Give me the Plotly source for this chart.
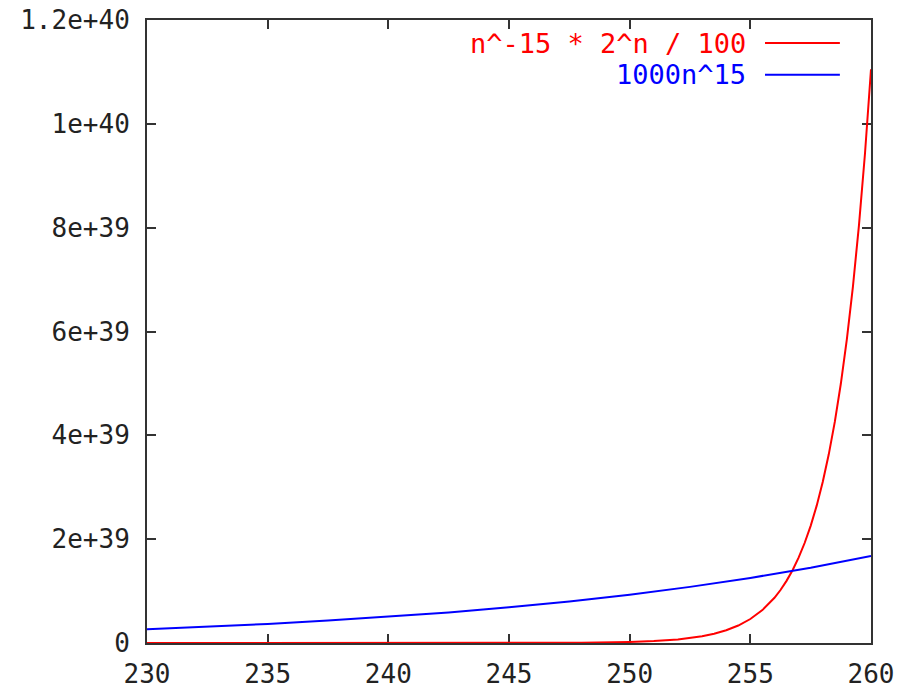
import plotly.graph_objects as go

# red series: n^-15 * 2^n / 100
red_n = [230, 235, 240, 245, 248, 250, 251, 252, 253, 253.5, 254, 254.5, 255, 255.5,
         256, 256.25, 256.5, 256.75, 257, 257.25, 257.5, 257.75, 258, 258.25, 258.5,
         258.75, 259, 259.25, 259.5, 259.75, 260]
red_y = [6.5e31, 3.7e33, 3.5e34, 8.2e35, 5.5e36, 1.94e37, 3.66e37, 6.89e37, 1.30e38, 1.784e38,
         2.449e38, 3.364e38, 4.62e38, 6.34e38,
         8.71e38, 1.021e39, 1.197e39, 1.402e39, 1.643e39, 1.926e39, 2.257e39, 2.646e39,
         3.100e39, 3.634e39, 4.258e39, 4.993e39, 5.852e39, 6.860e39, 8.04e39, 9.424e39,
         1.105e40]

# blue series: 1000n^15
blue_n = [230, 232.5, 235, 237.5, 240, 242.5, 245, 247.5, 250, 252.5, 255, 257.5, 260]
blue_y = [2.667e38, 3.14e38, 3.682e38, 4.31e38, 5.050e38, 5.89e38, 6.877e38, 8.00e38,
          9.313e38, 1.081e39, 1.253e39, 1.450e39, 1.677e39]

x_ticks = [230, 235, 240, 245, 250, 255, 260]
y_ticks = [0, 2e39, 4e39, 6e39, 8e39, 1e40, 1.2e40]
y_tick_text = ["0", "2e+39", "4e+39", "6e+39", "8e+39", "1e+40", "1.2e+40"]
legend_names = ["n^-15 * 2^n / 100", "1000n^15"]
colors = ["#ff0000", "#0000ff"]

FONT = "DejaVu Sans Mono"

fig = go.Figure()
fig.add_trace(go.Scatter(x=red_n, y=red_y, mode="lines", name=legend_names[0],
                         line=dict(color=colors[0], width=2)))
fig.add_trace(go.Scatter(x=blue_n, y=blue_y, mode="lines", name=legend_names[1],
                         line=dict(color=colors[1], width=2)))

axis_common = dict(showgrid=False, zeroline=False, showline=True, linecolor="#333333",
                   linewidth=2, mirror="allticks", ticks="inside", ticklen=9,
                   tickwidth=2, tickcolor="#333333", layer="below traces",
                   automargin=False, ticklabeloverflow="allow",
                   tickfont=dict(family=FONT, size=26, color="#222222"))

fig.update_xaxes(range=[230, 260.00001], tickvals=x_ticks, ticktext=[str(v) for v in x_ticks],
                 ticklabelstandoff=7, **axis_common)
fig.update_yaxes(range=[0, 1.2000001e40], tickvals=y_ticks, ticktext=y_tick_text,
                 ticklabelstandoff=10, **axis_common)

# gnuplot-style key: text right-aligned, line sample to its right
rows_y = [0.963, 0.912]
for name, col, yy in zip(legend_names, colors, rows_y):
    fig.add_annotation(x=0.830, y=yy, xref="paper", yref="paper", text=name,
                       showarrow=False, xanchor="right", yanchor="middle",
                       font=dict(family=FONT, size=27, color=col))
    fig.add_shape(type="line", xref="paper", yref="paper", x0=0.8536, x1=0.957,
                  y0=yy, y1=yy, line=dict(color=col, width=2))

fig.update_layout(width=904, height=688, showlegend=False,
                  margin=dict(l=147, r=33, t=20, b=45),
                  paper_bgcolor="white", plot_bgcolor="white")

# remove the default 8px page margin so the figure fills the window
fig.write_html("out.html", config={"displayModeBar": False},
               post_script="document.body.style.margin='0';")
